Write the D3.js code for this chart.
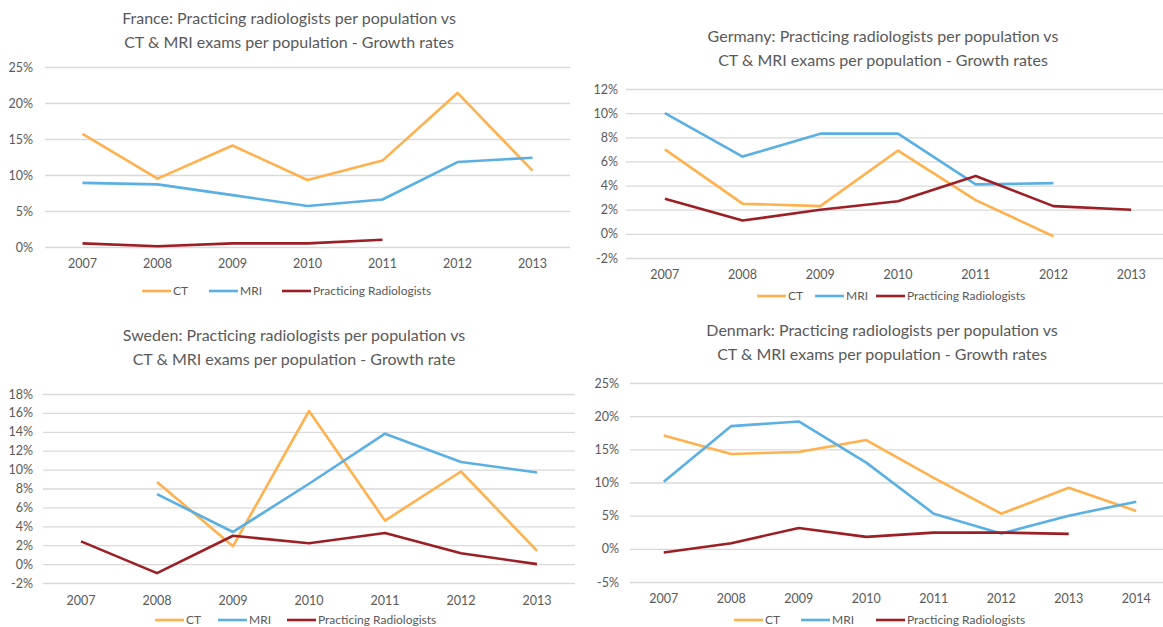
<!DOCTYPE html>
<html>
<head>
<meta charset="utf-8">
<script src="https://cdn.jsdelivr.net/npm/d3@7"></script>
<style>
  body { margin: 0; background: #fff; }
  svg text { font-family: Lato, "Open Sans", sans-serif; fill: #595959; }
</style>
</head>
<body>
<div id="container"></div>
<script>
let w = 1163;
let h = 627;

// DATA (growth rates, %)
let yearsA = ["2007", "2008", "2009", "2010", "2011", "2012", "2013"];
let yearsDK = ["2007", "2008", "2009", "2010", "2011", "2012", "2013", "2014"];

let franceCT  = [15.7, 9.5, 14.1, 9.3, 12.0, 21.4, 10.6];
let franceMRI = [8.9, 8.7, 7.2, 5.7, 6.6, 11.8, 12.4];
let franceRad = [0.5, 0.1, 0.5, 0.5, 1.0, null, null];

let germanyCT  = [7.0, 2.5, 2.3, 6.9, 2.8, -0.2, null];
let germanyMRI = [10.0, 6.4, 8.3, 8.3, 4.1, 4.2, null];
let germanyRad = [2.9, 1.1, 2.0, 2.7, 4.8, 2.3, 2.0];

let swedenCT  = [null, 8.7, 1.9, 16.2, 4.6, 9.8, 1.4];
let swedenMRI = [null, 7.4, 3.4, 8.5, 13.8, 10.8, 9.7];
let swedenRad = [2.4, -0.95, 3.0, 2.2, 3.3, 1.15, 0.0];

let denmarkCT  = [17.1, 14.3, 14.6, 16.4, 10.7, 5.3, 9.2, 5.7];
let denmarkMRI = [10.1, 18.5, 19.2, 13.0, 5.3, 2.3, 5.0, 7.1];
let denmarkRad = [-0.55, 0.85, 3.15, 1.8, 2.45, 2.45, 2.25, null];

let ticksFR = [0, 5, 10, 15, 20, 25];
let ticksDE = [-2, 0, 2, 4, 6, 8, 10, 12];
let ticksSE = [-2, 0, 2, 4, 6, 8, 10, 12, 14, 16, 18];
let ticksDK = [-5, 0, 5, 10, 15, 20, 25];

let seriesNames = ["CT", "MRI", "Practicing Radiologists"];
let colors = ["#ffb14e", "#5aafe3", "#9c1f25"];

// SVG
let viz = d3.select("#container").append("svg")
    .attr("width", w)
    .attr("height", h)
;

function drawPanel(p) {
  let g = viz.append("g");

  // TITLE
  g.append("text")
      .attr("x", p.titleX).attr("y", p.titleY)
      .attr("text-anchor", "middle")
      .style("font-size", "16px")
      .text(p.title1);
  g.append("text")
      .attr("x", p.titleX).attr("y", p.titleY + 23.5)
      .attr("text-anchor", "middle")
      .style("font-size", "16px")
      .text(p.title2);

  let xScale = d3.scaleBand().domain(p.years).range([p.left, p.right]);
  let yScale = d3.scaleLinear().domain([p.ticks[0], p.ticks[p.ticks.length - 1]]).range([p.bottom, p.top]);

  // GRID + Y LABELS
  let yAxis = d3.axisLeft(yScale)
      .tickValues(p.ticks)
      .tickFormat(d => d + "%")
      .tickSize(-(p.right - p.left))
      .tickPadding(p.labelGap);
  let yg = g.append("g").attr("transform", "translate(" + p.left + ",0)").call(yAxis);
  yg.select(".domain").remove();
  yg.selectAll("line").attr("stroke", "#d9d9d9").attr("stroke-width", 1.3);
  yg.selectAll("text").style("font-size", "12.5px").style("fill", "#595959").attr("font-family", null);

  // X LABELS
  let xAxis = d3.axisBottom(xScale).tickSize(0).tickPadding(0);
  let xg = g.append("g").attr("transform", "translate(0," + p.xLabelY + ")").call(xAxis);
  xg.select(".domain").remove();
  xg.selectAll("text").style("font-size", "12.5px").style("fill", "#595959").attr("dy", "0.35em").attr("font-family", null);

  // LINES
  let lineMaker = d3.line()
      .defined(d => d.v != null)
      .x(d => xScale(d.year) + xScale.bandwidth() / 2)
      .y(d => yScale(d.v));

  [p.ct, p.mri, p.rad].forEach((vals, i) => {
    let pts = p.years.map((yr, j) => ({ year: yr, v: vals[j] }));
    g.append("path")
        .datum(pts)
        .attr("d", lineMaker)
        .attr("fill", "none")
        .attr("stroke", colors[i])
        .attr("stroke-width", 2.6)
        .attr("stroke-linejoin", "round");
  });

  // LEGEND
  seriesNames.forEach((name, i) => {
    let lx = p.legendX[i];
    g.append("line")
        .attr("x1", lx).attr("x2", lx + 29)
        .attr("y1", p.legendY).attr("y2", p.legendY)
        .attr("stroke", colors[i]).attr("stroke-width", 2.6);
    g.append("text")
        .attr("x", lx + 31).attr("y", p.legendY)
        .attr("dy", "0.35em")
        .style("font-size", "12px")
        .text(name);
  });
}

drawPanel({
  title1: "France: Practicing radiologists per population vs",
  title2: "CT & MRI exams per population - Growth rates",
  titleX: 289, titleY: 24,
  years: yearsA, ct: franceCT, mri: franceMRI, rad: franceRad, ticks: ticksFR,
  left: 45, right: 570, top: 67, bottom: 247, labelGap: 12, xLabelY: 264,
  legendX: [142, 209, 282], legendY: 291
});

drawPanel({
  title1: "Germany: Practicing radiologists per population vs",
  title2: "CT & MRI exams per population - Growth rates",
  titleX: 883, titleY: 42,
  years: yearsA, ct: germanyCT, mri: germanyMRI, rad: germanyRad, ticks: ticksDE,
  left: 626, right: 1170, top: 89, bottom: 258, labelGap: 8, xLabelY: 275,
  legendX: [757, 815, 876], legendY: 296
});

drawPanel({
  title1: "Sweden: Practicing radiologists per population vs",
  title2: "CT & MRI exams per population - Growth rate",
  titleX: 294, titleY: 341,
  years: yearsA, ct: swedenCT, mri: swedenMRI, rad: swedenRad, ticks: ticksSE,
  left: 43, right: 575, top: 394, bottom: 583, labelGap: 10, xLabelY: 601,
  legendX: [155, 218, 287], legendY: 620
});

drawPanel({
  title1: "Denmark: Practicing radiologists per population vs",
  title2: "CT & MRI exams per population - Growth rates",
  titleX: 882, titleY: 336,
  years: yearsDK, ct: denmarkCT, mri: denmarkMRI, rad: denmarkRad, ticks: ticksDK,
  left: 630, right: 1170, top: 383, bottom: 582, labelGap: 11, xLabelY: 599,
  legendX: [734, 801, 876], legendY: 620
});
</script>
</body>
</html>
